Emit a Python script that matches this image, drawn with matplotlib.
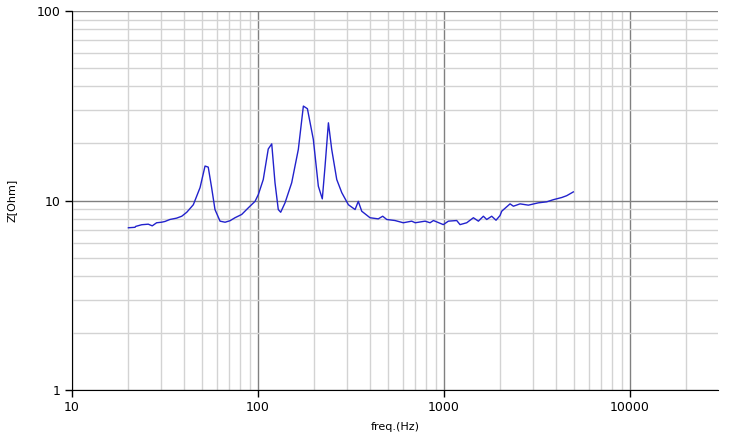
import matplotlib.pyplot as plt
from matplotlib.ticker import LogLocator, FixedLocator, FixedFormatter, NullFormatter

# impedance curve
freq = [20.1, 21.8, 22.0, 23.7, 25.7, 27.0, 28.5, 30.3, 31.6, 33.6, 36.5, 38.9,
        41.4, 44.9, 48.8, 51.9, 54.0, 56.3, 58.7, 62.5, 66.5, 70.7, 75.2, 81.7,
        88.7, 96.4, 100.4, 106.7, 113.5, 118.5, 123.4, 128.5, 132.4, 139.7,
        151.7, 164.7, 175.3, 184.3, 198.3, 211, 221.6, 229.3, 239, 249, 265,
        282, 306, 332.5, 346, 361, 400, 443, 468, 492, 545, 604, 670, 700,
        791, 841, 877, 991, 1055, 1170, 1219, 1324, 1438, 1530, 1627, 1696,
        1804, 1903, 2000, 2042, 2264, 2360, 2563, 2840, 3213, 3564, 3870,
        4293, 4563, 4955]
imp = [7.18, 7.22, 7.3, 7.45, 7.5, 7.35, 7.63, 7.68, 7.75, 7.94, 8.07, 8.26,
       8.67, 9.5, 11.7, 15.2, 15.0, 11.7, 8.96, 7.78, 7.68, 7.82, 8.11, 8.44,
       9.15, 9.9, 10.75, 12.9, 18.7, 19.9, 12.4, 8.96, 8.67, 9.72,
       12.4, 18.6, 31.5, 30.5, 21.0, 11.9, 10.2, 15.2, 25.7, 18.6, 12.9,
       11.0, 9.5, 8.96, 9.9, 8.78, 8.11, 8.0, 8.26, 7.94, 7.84, 7.63, 7.78, 7.63,
       7.78, 7.63, 7.84, 7.46, 7.78, 7.84, 7.46, 7.63, 8.11, 7.78, 8.26, 7.94,
       8.26, 7.87, 8.33, 8.78, 9.6, 9.33, 9.6, 9.45, 9.72, 9.84, 10.1,
       10.37, 10.6, 11.1]

x_ticks = [10, 100, 1000, 10000]
y_ticks = [1, 10, 100]

fig = plt.figure(figsize=(7.3, 4.41), dpi=100)
ax = fig.add_axes([72 / 730, 1 - 390 / 441, (718 - 72) / 730, (390 - 11) / 441])

ax.plot(freq, imp, color="#2222cc", linewidth=1)

ax.set_xscale("log")
ax.set_yscale("log")
ax.set_xlim(10, 29700)
ax.set_ylim(1, 100)

ax.xaxis.set_major_locator(FixedLocator(x_ticks))
ax.xaxis.set_major_formatter(FixedFormatter([str(v) for v in x_ticks]))
ax.yaxis.set_major_locator(FixedLocator(y_ticks))
ax.yaxis.set_major_formatter(FixedFormatter([str(v) for v in y_ticks]))
ax.xaxis.set_minor_locator(LogLocator(base=10, subs=range(2, 10), numticks=20))
ax.yaxis.set_minor_locator(LogLocator(base=10, subs=range(2, 10), numticks=20))
ax.xaxis.set_minor_formatter(NullFormatter())
ax.yaxis.set_minor_formatter(NullFormatter())

ax.grid(which="major", color="#808080", linewidth=1)
ax.grid(which="minor", color="#d3d3d3", linewidth=1)
ax.set_axisbelow(True)

ax.tick_params(which="major", direction="out", length=5, width=1, labelsize=9,
               color="black", pad=3)
ax.tick_params(which="minor", length=0)
ax.spines["top"].set_visible(False)
ax.spines["right"].set_visible(False)

ax.set_xlabel("freq.(Hz)", fontsize=8, va="center")
ax.set_ylabel("Z[Ohm]", fontsize=8, va="center")
ax.xaxis.set_label_coords(0.5, (390 - 427) / 379)
ax.yaxis.set_label_coords((12 - 72) / 646, 0.5)

fig.savefig("out.png", dpi=100)
